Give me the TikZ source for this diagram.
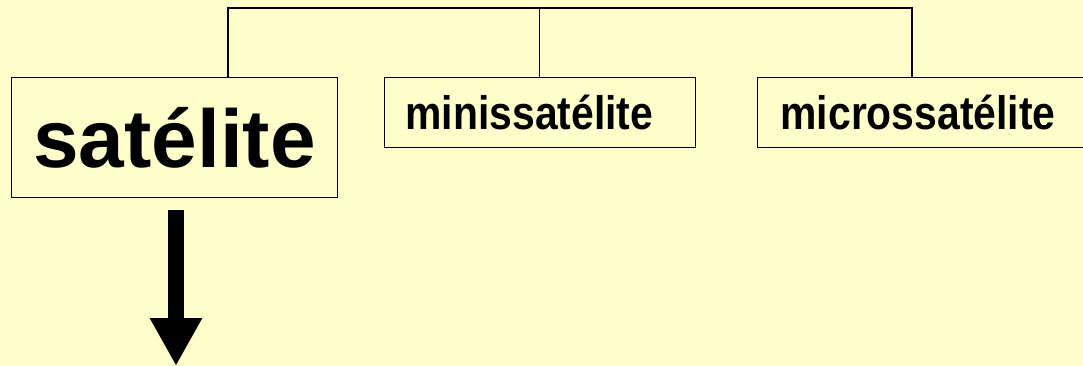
\documentclass[tikz,border=0pt]{standalone}
\usepackage{fontspec}
\setmainfont{Liberation Sans}
\usetikzlibrary{arrows.meta}
\definecolor{bg}{HTML}{FFFFCC}
\newcommand{\narrowtxt}[1]{\scalebox{0.87}[1]{#1}}
\tikzset{
  box/.style={draw=black, line width=1.2pt, anchor=north west, inner ysep=0pt},
  bigtxt/.style={font=\fontsize{82}{90}\selectfont\bfseries},
  smalltxt/.style={font=\fontsize{47}{54}\selectfont\bfseries, align=left},
  link/.style={draw=black, line width=1.2pt},
  bigarrow/.style={line width=16pt, -{Triangle[width=49pt,length=48pt]}}
}
\begin{document}
\begin{tikzpicture}[x=1pt,y=-1pt]
\fill[bg] (0,0) rectangle (1083,366);
\useasboundingbox (0,0) rectangle (1083,366);
\node[box, bigtxt, minimum width=326pt, minimum height=120pt, inner xsep=0pt] (sat) at (11,77) {satélite};
\node[box, smalltxt, minimum height=70pt, inner xsep=21pt, text width=269pt] (mini) at (384,77) {\narrowtxt{minissatélite}};
\node[box, smalltxt, minimum height=70pt, inner xsep=23pt, text width=320pt] (micro) at (757,77) {\narrowtxt{microssatélite}};
\coordinate (j1) at (228,8);
\coordinate (j2) at (539.5,8);
\coordinate (j3) at (912,8);
\coordinate (tip) at (176,366);
\draw[link] (sat.north -| j1) -- (j1) -- (j3) -- (micro.north -| j3);
\draw[link] (j2) -- (mini.north -| j2);
\draw[bigarrow] ([yshift=-12pt]sat.south -| tip) -- (tip);
\end{tikzpicture}
\end{document}
